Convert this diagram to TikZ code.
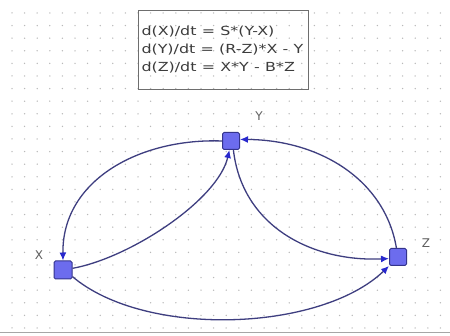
\documentclass[tikz,border=0pt]{standalone}
\usepackage{fontspec}
\setmainfont{DejaVu Sans}
\usetikzlibrary{arrows.meta}
\definecolor{nodefill}{RGB}{108,108,238}
\definecolor{nodeborder}{RGB}{52,52,140}
\definecolor{edgecol}{RGB}{62,62,128}
\definecolor{arrowcol}{RGB}{40,40,205}
\definecolor{dotgray}{RGB}{185,185,185}
\definecolor{boxgray}{RGB}{110,110,110}
\definecolor{txtgray}{RGB}{60,60,60}
\definecolor{lblgray}{RGB}{95,95,95}
\begin{document}
\begin{tikzpicture}[x=1pt,y=-1pt,
  sq/.style={draw=nodeborder, fill=nodefill, line width=1, minimum size=17, inner sep=0pt, rounded corners=1.5},
  lbl/.style={text=lblgray, font=\fontsize{12}{14}\selectfont, inner sep=0pt},
  link/.style={draw=edgecol, line width=1.3, -{Latex[length=8,width=7,color=arrowcol]}},
  eqbox/.style={draw=boxgray, line width=1, anchor=north west, minimum width=170, minimum height=79,
    text width=164, inner xsep=3, align=left, text=txtgray, font=\fontsize{12.5}{18}\selectfont}]
\useasboundingbox (0,0) rectangle (450,336);
\fill[white] (0,0) rectangle (450,336);
\foreach \i in {0,...,34} {
  \foreach \j in {0,...,25} {
    \fill[dotgray] ({12+12.6*\i},{13+12.6*\j}) circle (0.75);
  }
}
\draw[gray!70, line width=1] (0,333) -- (450,333);
\node[eqbox] (eq) at (138,10) {\scalebox{1.27}[1]{d(X)/dt = S*(Y-X)}\\\scalebox{1.27}[1]{d(Y)/dt = (R-Z)*X - Y}\\\scalebox{1.27}[1]{d(Z)/dt = X*Y - B*Z}};
\node[sq] (Y) at (231,141) {};
\node[sq, minimum size=18] (X) at (63,270) {};
\node[sq] (Z) at (398,257) {};
\node[lbl] (ly) at (259,116) {Y};
\node[lbl] (lx) at (39,255) {X};
\node[lbl] (lz) at (426,243) {Z};
\draw[link] (Y.west) .. controls (140,138) and (62,180) .. (X.north);
\draw[link] (X.10) .. controls (130,258) and (218,200) .. (Y.-100);
\draw[link] (Y.-75) .. controls (242,225) and (310,262) .. (Z.190);
\draw[link] (Z.100) .. controls (385,180) and (320,140) .. (Y.10);
\draw[link] (X.-35) .. controls (145,338) and (320,332) .. (Z.south west);
\end{tikzpicture}
\end{document}
